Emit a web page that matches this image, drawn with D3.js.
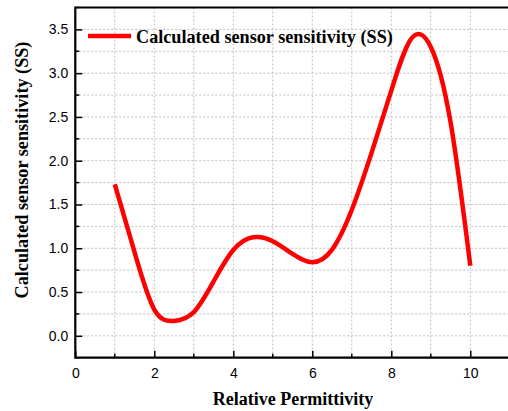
<!DOCTYPE html>
<html>
<head>
<meta charset="utf-8">
<script src="https://cdn.jsdelivr.net/npm/d3@7"></script>
<style>
  html, body { margin: 0; padding: 0; background: #fff; }
  svg { display: block; }
</style>
</head>
<body>
<script>
// Relative permittivity (x) and calculated sensor sensitivity (y)
const permittivity = [1.0, 1.5, 2.0, 2.5, 3.0, 3.5, 4.0, 4.5, 5.0, 5.5,
  6.0, 6.5, 7.0, 7.5, 8.0, 8.5, 9.0, 9.5, 10.0];
const sensitivity = [1.73, 0.955, 0.30, 0.17, 0.27, 0.62, 0.98, 1.125, 1.08, 0.935,
  0.84, 0.985, 1.44, 2.09, 2.80, 3.39, 3.30, 2.44, 0.80];

const seriesName = "Calculated sensor sensitivity (SS)";
const xTitle = "Relative Permittivity";
const yTitle = "Calculated sensor sensitivity (SS)";
const xMajorTicks = [0, 2, 4, 6, 8, 10];
const xMinorTicks = [1, 3, 5, 7, 9, 11];
const yMajorTicks = [0, 0.5, 1.0, 1.5, 2.0, 2.5, 3.0, 3.5];
const yMinorTicks = [-0.25, 0.25, 0.75, 1.25, 1.75, 2.25, 2.75, 3.25, 3.75];

const W = 508, H = 411;
const plotL = 75.3, plotT = 7.5, plotR = 509.8, plotB = 357.7;

const x = d3.scaleLinear().domain([0, 11]).range([plotL, plotR]);
const y = d3.scaleLinear().domain([-0.25, 3.75]).range([plotB, plotT]);

const svg = d3.select("body").append("svg").attr("width", W).attr("height", H);

const serif = "'Liberation Serif', 'Times New Roman', serif";
const sans = "'Liberation Sans', Arial, sans-serif";

// dotted grid at every major and minor tick
const grid = svg.append("g").attr("stroke", "#bdbdbd").attr("stroke-width", 1)
  .attr("stroke-dasharray", "2,2");
grid.selectAll("line.v").data(d3.range(1, 11)).join("line").attr("class", "v")
  .attr("x1", d => x(d)).attr("x2", d => x(d)).attr("y1", plotT).attr("y2", plotB);
grid.selectAll("line.h").data(d3.range(0, 3.75, 0.25)).join("line").attr("class", "h")
  .attr("y1", d => y(d)).attr("y2", d => y(d)).attr("x1", plotL).attr("x2", plotR);

// x axis with inward ticks
const xAxis = svg.append("g").attr("transform", `translate(0,${plotB})`)
  .call(d3.axisBottom(x).tickValues(xMajorTicks).tickSizeInner(-7).tickSizeOuter(0)
    .tickFormat(d3.format("d")));
xAxis.select(".domain").remove();
xAxis.selectAll(".tick line").attr("stroke", "#000").attr("stroke-width", 1.5);
xAxis.selectAll(".tick text").attr("y", 10).attr("dy", "0.71em")
  .style("font-family", sans).style("font-size", "14px").attr("fill", "#000");
svg.append("g").selectAll("line").data(xMinorTicks).join("line")
  .attr("x1", d => x(d)).attr("x2", d => x(d)).attr("y1", plotB).attr("y2", plotB - 4)
  .attr("stroke", "#000").attr("stroke-width", 1.5);

// y axis with inward ticks
const yAxis = svg.append("g").attr("transform", `translate(${plotL},0)`)
  .call(d3.axisLeft(y).tickValues(yMajorTicks).tickSizeInner(-7).tickSizeOuter(0)
    .tickFormat(d3.format(".1f")));
yAxis.select(".domain").remove();
yAxis.selectAll(".tick line").attr("stroke", "#000").attr("stroke-width", 1.5);
yAxis.selectAll(".tick text").attr("x", -7)
  .style("font-family", sans).style("font-size", "14px").attr("fill", "#000");
svg.append("g").selectAll("line").data(yMinorTicks).join("line")
  .attr("y1", d => y(d)).attr("y2", d => y(d)).attr("x1", plotL).attr("x2", plotL + 4)
  .attr("stroke", "#000").attr("stroke-width", 1.5);

// frame lines
svg.append("path")
  .attr("d", `M${plotR},${plotT}H${plotL}V${plotB}H${plotR}`)
  .attr("fill", "none").attr("stroke", "#000").attr("stroke-width", 2.2);

// sensitivity curve (smooth spline through the samples)
const pts = permittivity.map((p, i) => [p, sensitivity[i]]);
const line = d3.line().x(d => x(d[0])).y(d => y(d[1])).curve(d3.curveNatural);
svg.append("path").datum(pts).attr("d", line)
  .attr("fill", "none").attr("stroke", "#ff0000").attr("stroke-width", 4.5)
  .attr("stroke-linejoin", "round");

// legend
svg.append("line").attr("x1", 88).attr("x2", 131).attr("y1", 36).attr("y2", 36)
  .attr("stroke", "#ff0000").attr("stroke-width", 4.5);
svg.append("text").attr("x", 136).attr("y", 42.5).text(seriesName)
  .style("font-family", serif).style("font-weight", "bold").style("font-size", "18.2px")
  .attr("fill", "#000");

// axis titles
svg.append("text").attr("x", 293).attr("y", 405).attr("text-anchor", "middle").text(xTitle)
  .style("font-family", serif).style("font-weight", "bold").style("font-size", "18px")
  .attr("fill", "#000");
svg.append("text").attr("transform", "translate(28,170) rotate(-90)").attr("text-anchor", "middle")
  .text(yTitle)
  .style("font-family", serif).style("font-weight", "bold").style("font-size", "18.2px")
  .attr("fill", "#000");
</script>
</body>
</html>
